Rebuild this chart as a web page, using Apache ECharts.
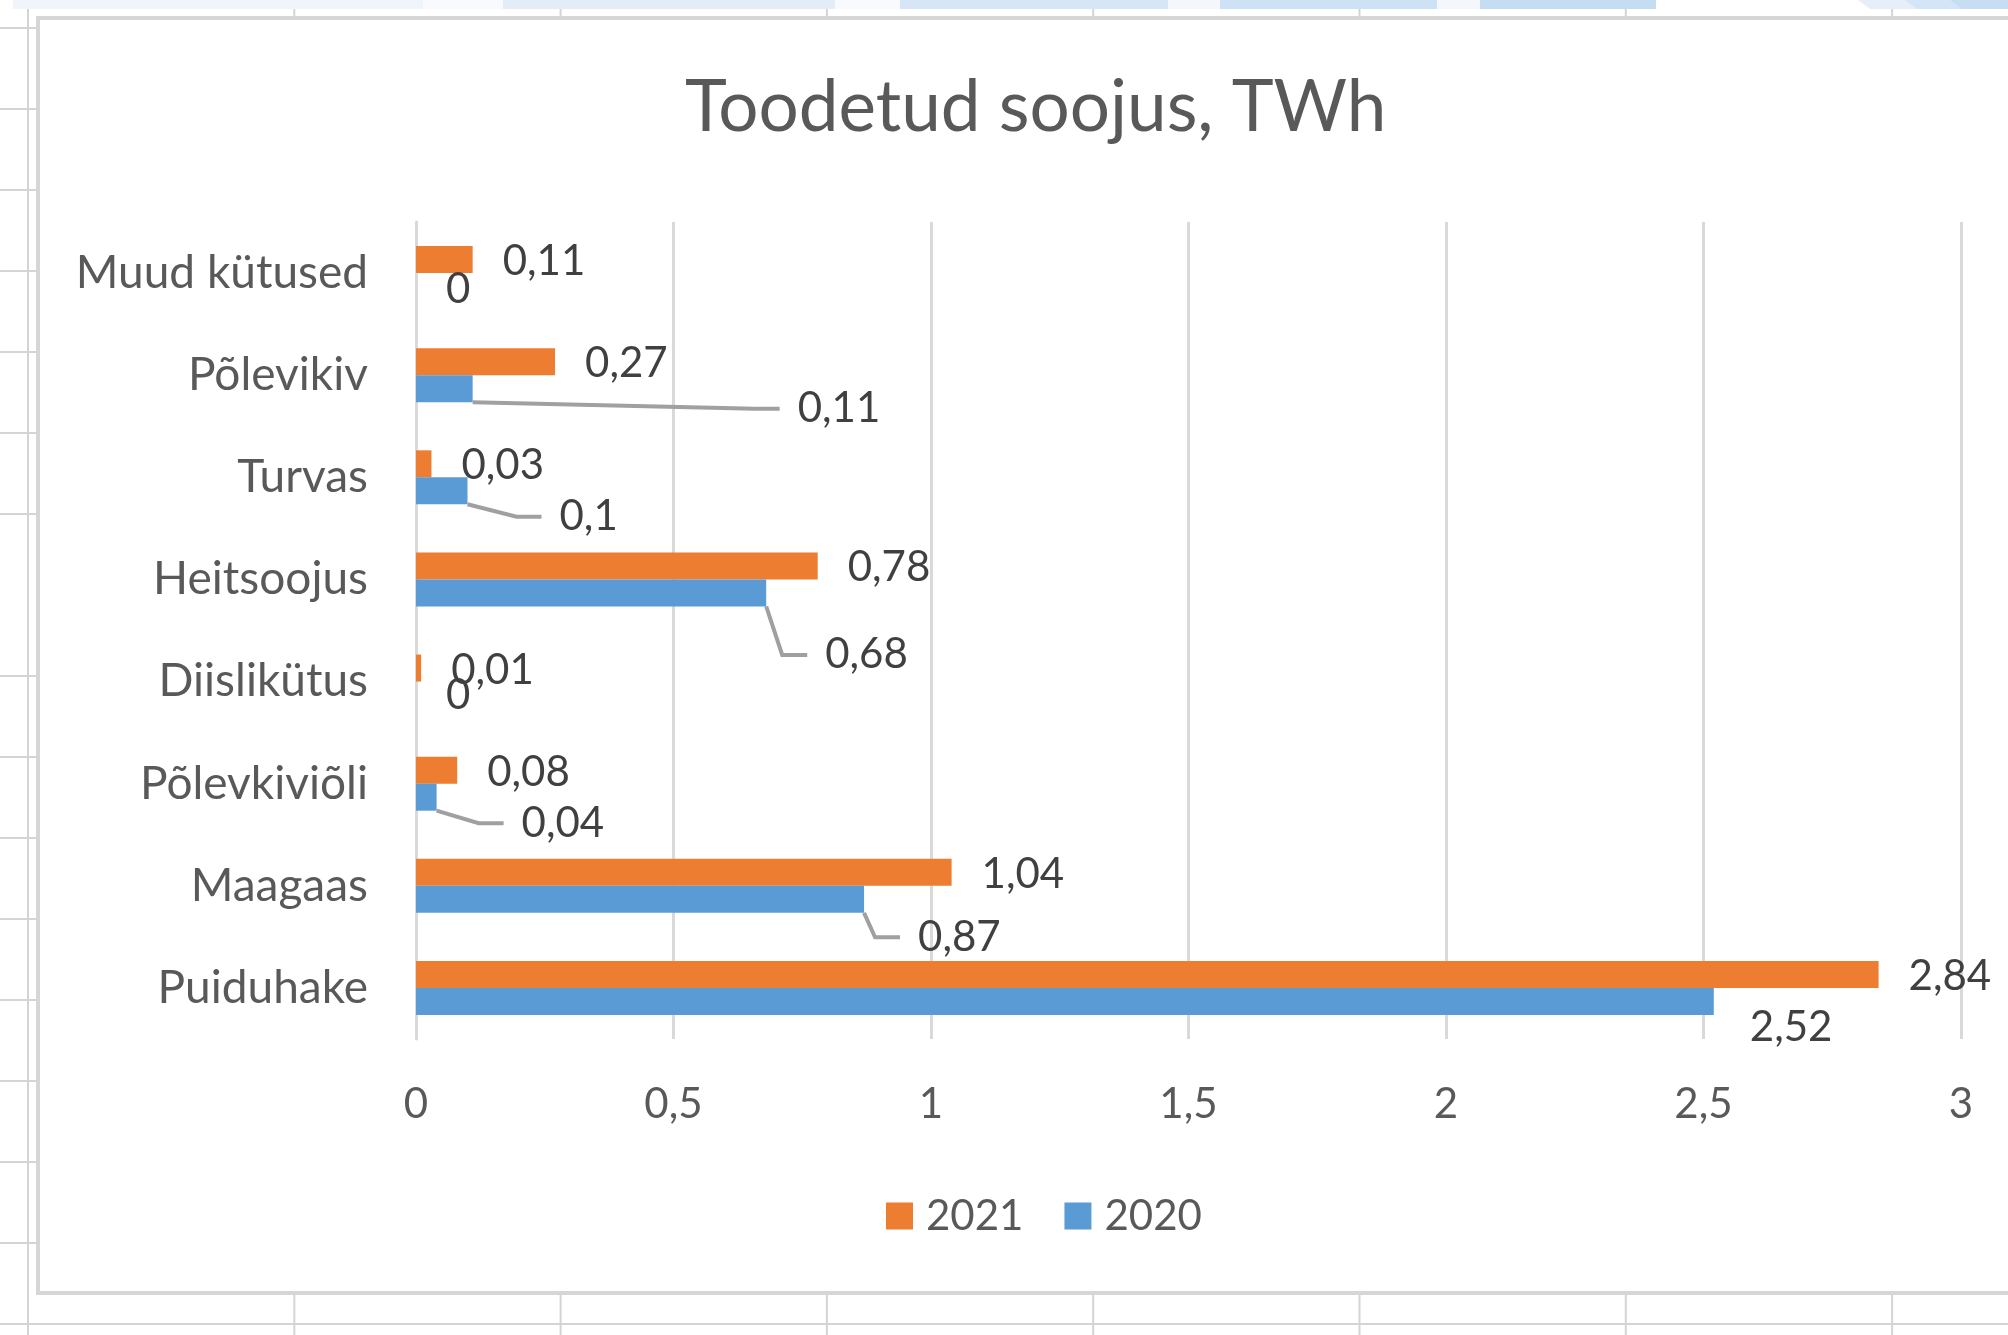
<!DOCTYPE html>
<html>
<head>
<meta charset="utf-8">
<script src="https://cdn.jsdelivr.net/npm/echarts@6/dist/echarts.min.js"></script>
<style>
  html, body { margin: 0; padding: 0; background: #ffffff; }
  #chart { width: 2008px; height: 1335px; }
</style>
</head>
<body>
<div id="chart"></div>
<script>
// Produced heat by fuel, TWh
const categories = ['Muud kütused', 'Põlevikiv', 'Turvas', 'Heitsoojus', 'Diislikütus', 'Põlevkiviõli', 'Maagaas', 'Puiduhake'];
const values2021 = [0.11, 0.27, 0.03, 0.78, 0.01, 0.08, 1.04, 2.84];
const values2020 = [0, 0.11, 0.1, 0.68, 0, 0.04, 0.87, 2.52];
const xTicks = [0, 0.5, 1, 1.5, 2, 2.5, 3];
const seriesNames = ['2021', '2020'];

// 2020 labels that were dragged aside: pixel shift from the default spot, and whether a leader line joins them to the bar
const shift2020X = [0, 295, 62, 29, 0, 55, 24, 6];
const shift2020Y = [3, 20, 26, 62, 0, 26, 38, 26];
const leader2020 = [false, true, true, true, false, true, true, false];

const FONT = 'Lato';
const AXIS_TEXT = '#595959';
const LABEL_TEXT = '#404040';
const GRID_LINE = '#D9D9D9';
const ORANGE = '#ED7D31';
const BLUE = '#5B9BD5';
const LEADER = { color: '#A0A0A0', width: 4, type: 'solid' };

const fmt = v => String(v).replace('.', ',');
// a blank lead-in keeps the leader line from touching the number
const labelText = p => '{gap|}' + fmt(p.value);

// spreadsheet cells showing around the chart object
const sheetGraphics = [];
const ribbon = [
  [13, 423, '#F0F5FB'], [423, 503, '#F8FAFD'], [503, 835, '#E3EDF8'], [835, 900, '#F8FAFD'],
  [900, 1168, '#D6E6F6'], [1168, 1220, '#F4F8FC'], [1220, 1437, '#CDE2F5'], [1437, 1480, '#F4F8FC'],
  [1480, 1656, '#C5DDF3']
];
ribbon.forEach(([a, b, c]) => sheetGraphics.push({
  type: 'rect', shape: { x: a, y: 0, width: b - a, height: 9 }, style: { fill: c }, silent: true
}));
// slanted ribbon pieces at the right end
[[1858, '#E6EFF9'], [1905, '#D3E5F6'], [1950, '#C7DDF3']].forEach(([x, c]) => sheetGraphics.push({
  type: 'polygon', shape: { points: [[x, 0], [x + 60, 0], [x + 60, 9], [x + 12, 9]] }, style: { fill: c }, silent: true
}));
for (let k = 0; k < 8; k++) {
  const x = 28 + 266.3 * k;
  sheetGraphics.push({ type: 'line', shape: { x1: x, y1: 9, x2: x, y2: 17 }, style: { stroke: '#D4D4D4', lineWidth: 2 }, silent: true });
  sheetGraphics.push({ type: 'line', shape: { x1: x, y1: 1295, x2: x, y2: 1335 }, style: { stroke: '#D4D4D4', lineWidth: 2 }, silent: true });
}
sheetGraphics.push({ type: 'line', shape: { x1: 28, y1: 9, x2: 28, y2: 1335 }, style: { stroke: '#D4D4D4', lineWidth: 2 }, silent: true });
for (let k = 0; k <= 16; k++) {
  const y = 28 + 81 * k;
  if (k === 7) continue;
  sheetGraphics.push({ type: 'line', shape: { x1: 0, y1: y, x2: 36, y2: y }, style: { stroke: '#D4D4D4', lineWidth: 2 }, silent: true });
}
sheetGraphics.push({ type: 'line', shape: { x1: 0, y1: 1324, x2: 2008, y2: 1324 }, style: { stroke: '#D4D4D4', lineWidth: 2 }, silent: true });
// chart object frame
sheetGraphics.push({
  type: 'rect', shape: { x: 38, y: 18, width: 2100, height: 1275 },
  style: { fill: '#ffffff', stroke: '#D6D6D6', lineWidth: 4 }, z: -10, silent: true
});

const barLabel = {
  show: true,
  position: 'right',
  distance: 12,
  fontFamily: FONT,
  fontSize: 42,
  color: LABEL_TEXT,
  formatter: labelText,
  rich: { gap: { width: 18, height: 10 } }
};

const chart = echarts.init(document.getElementById('chart'));

chart.setOption({
  animation: false,
  backgroundColor: '#ffffff',
  graphic: { elements: sheetGraphics },
  title: {
    text: 'Toodetud soojus, TWh',
    left: 680,
    top: 68,
    textStyle: { fontFamily: FONT, fontSize: 71, fontWeight: 'normal', color: AXIS_TEXT }
  },
  legend: {
    data: seriesNames,
    left: 881,
    top: 1190,
    icon: 'rect',
    itemWidth: 27,
    itemHeight: 27,
    itemGap: 41,
    textStyle: { fontFamily: FONT, fontSize: 42, color: AXIS_TEXT, padding: [0, 0, 0, 8] }
  },
  grid: { left: 416, top: 222, width: 1545, height: 817, containLabel: false },
  xAxis: {
    type: 'value',
    min: xTicks[0],
    max: xTicks[xTicks.length - 1],
    interval: xTicks[1] - xTicks[0],
    axisLine: { show: false },
    axisTick: { show: false },
    splitLine: { show: true, lineStyle: { color: GRID_LINE, width: 3 } },
    axisLabel: { fontFamily: FONT, fontSize: 42, color: AXIS_TEXT, margin: 44, formatter: fmt }
  },
  yAxis: {
    type: 'category',
    data: categories,
    inverse: true,
    axisLine: { show: true, lineStyle: { color: GRID_LINE, width: 3 } },
    axisTick: { show: false },
    axisLabel: { fontFamily: FONT, fontSize: 46, color: AXIS_TEXT, margin: 48 }
  },
  series: [
    {
      name: seriesNames[0],
      type: 'bar',
      data: values2021,
      barWidth: 27,
      barGap: '0%',
      itemStyle: { color: ORANGE },
      label: Object.assign({}, barLabel, { offset: [0, 2] })
    },
    {
      name: seriesNames[1],
      type: 'bar',
      data: values2020.map((v, i) => ({
        value: v,
        labelLine: { show: leader2020[i], length2: 25, lineStyle: LEADER }
      })),
      barWidth: 27,
      barGap: '0%',
      itemStyle: { color: BLUE },
      label: barLabel,
      labelLine: { length2: 25, lineStyle: LEADER },
      labelLayout: p => ({ dx: shift2020X[p.dataIndex], dy: shift2020Y[p.dataIndex] })
    }
  ]
});
</script>
</body>
</html>
